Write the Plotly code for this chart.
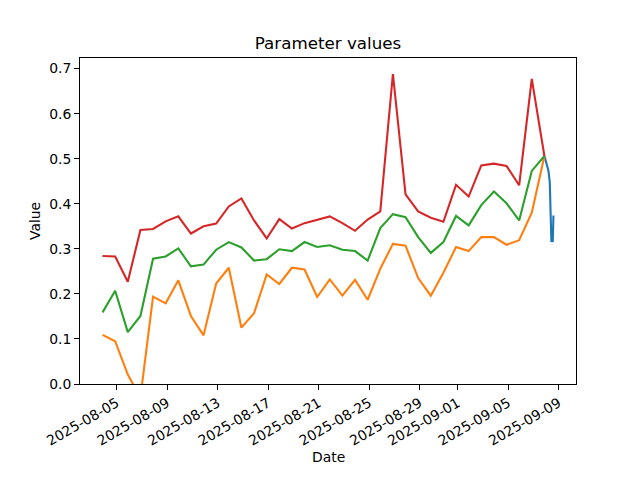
import pandas as pd
import plotly.graph_objects as go

# Daily series (start 2025-08-03 21:00, one value per day)
start_time = "2025-08-03 21:00"
orange_vals = [0.109, 0.095, 0.021, -0.03, 0.194, 0.179, 0.230, 0.151, 0.108, 0.223,
               0.258, 0.125, 0.157, 0.243, 0.222, 0.258, 0.254, 0.193, 0.232, 0.196,
               0.231, 0.187, 0.256, 0.311, 0.307, 0.235, 0.196, 0.247, 0.304, 0.295,
               0.326, 0.326, 0.309, 0.319, 0.380, 0.506]
green_vals = [0.159, 0.207, 0.115, 0.151, 0.278, 0.283, 0.301, 0.261, 0.265, 0.298,
              0.315, 0.303, 0.274, 0.277, 0.299, 0.295, 0.315, 0.304, 0.308, 0.298,
              0.295, 0.274, 0.346, 0.377, 0.370, 0.326, 0.291, 0.315, 0.373, 0.352,
              0.397, 0.427, 0.401, 0.363, 0.473, 0.506]
red_vals = [0.284, 0.283, 0.227, 0.342, 0.344, 0.361, 0.372, 0.334, 0.350, 0.356,
            0.394, 0.412, 0.363, 0.323, 0.366, 0.345, 0.357, 0.365, 0.372, 0.357,
            0.340, 0.365, 0.383, 0.688, 0.421, 0.383, 0.369, 0.360, 0.442, 0.416,
            0.485, 0.489, 0.484, 0.441, 0.677, 0.506]

# Sub-daily series (hours after the last daily point)
blue_hours = [0, 7.6, 10.2, 11.4, 12.0, 13.3, 14.6, 15.9, 17.2]
blue_vals = [0.506, 0.474, 0.448, 0.382, 0.330, 0.315, 0.330, 0.315, 0.374]

tick_labels = ["2025-08-05", "2025-08-09", "2025-08-13", "2025-08-17", "2025-08-21",
               "2025-08-25", "2025-08-29", "2025-09-01", "2025-09-05", "2025-09-09"]
y_ticks = [0.0, 0.1, 0.2, 0.3, 0.4, 0.5, 0.6, 0.7]

days = pd.date_range(start_time, periods=len(red_vals), freq="D")
blue_times = [days[-1] + pd.Timedelta(hours=h) for h in blue_hours]

t0 = days[0]
t1 = blue_times[-1]
span = t1 - t0
xr = [t0 - span * 0.05, t1 + span * 0.05]

C = {"blue": "#1f77b4", "orange": "#ff7f0e", "green": "#2ca02c", "red": "#d62728"}
lw = 2.1

fig = go.Figure()
fig.add_trace(go.Scatter(x=blue_times, y=blue_vals, mode="lines", line=dict(color=C["blue"], width=lw)))
fig.add_trace(go.Scatter(x=days, y=orange_vals, mode="lines", line=dict(color=C["orange"], width=lw)))
fig.add_trace(go.Scatter(x=days, y=green_vals, mode="lines", line=dict(color=C["green"], width=lw)))
fig.add_trace(go.Scatter(x=days, y=red_vals, mode="lines", line=dict(color=C["red"], width=lw)))

font = dict(family="DejaVu Sans", size=13.9, color="black")

# the page body adds an 8px offset, so the figure is 632x472
W, H = 632, 472
L, T = 72, 49.6
PW, PH = 496, 326.4

fig.update_layout(
    width=W, height=H,
    margin=dict(l=L, r=W - L - PW, t=T, b=H - T - PH, pad=0, autoexpand=False),
    paper_bgcolor="white", plot_bgcolor="white",
    showlegend=False,
    font=font,
    title=dict(text="Parameter values", x=(L + PW / 2) / W, xanchor="center",
               y=1 - 35 / H, yanchor="middle", yref="container",
               font=dict(family="DejaVu Sans", size=16.7, color="black")),
    annotations=[
        dict(text="Date", xref="paper", yref="paper", x=0.5, y=-(457 - 384) / PH,
             xanchor="center", yanchor="middle", showarrow=False, font=font),
        dict(text="Value", xref="paper", yref="paper", x=-(80 - 35) / PW, y=0.5,
             xanchor="center", yanchor="middle", textangle=-90, showarrow=False, font=font),
    ],
)

fig.update_xaxes(
    range=xr, showgrid=False, zeroline=False, automargin=False,
    showline=True, linecolor="black", linewidth=1.1, mirror=True,
    ticks="outside", ticklen=4.9, tickwidth=1.1, tickcolor="black",
    tickvals=pd.to_datetime(tick_labels), ticktext=tick_labels, tickangle=-30,
    tickfont=font,
)
fig.update_yaxes(
    range=[0, 0.7235], showgrid=False, zeroline=False, automargin=False,
    showline=True, linecolor="black", linewidth=1.1, mirror=True,
    ticks="outside", ticklen=4.9, tickwidth=1.1, tickcolor="black",
    tickvals=y_ticks, ticktext=[f"{v:.1f}" for v in y_ticks],
    tickfont=font,
)

fig.write_html("out.html")
